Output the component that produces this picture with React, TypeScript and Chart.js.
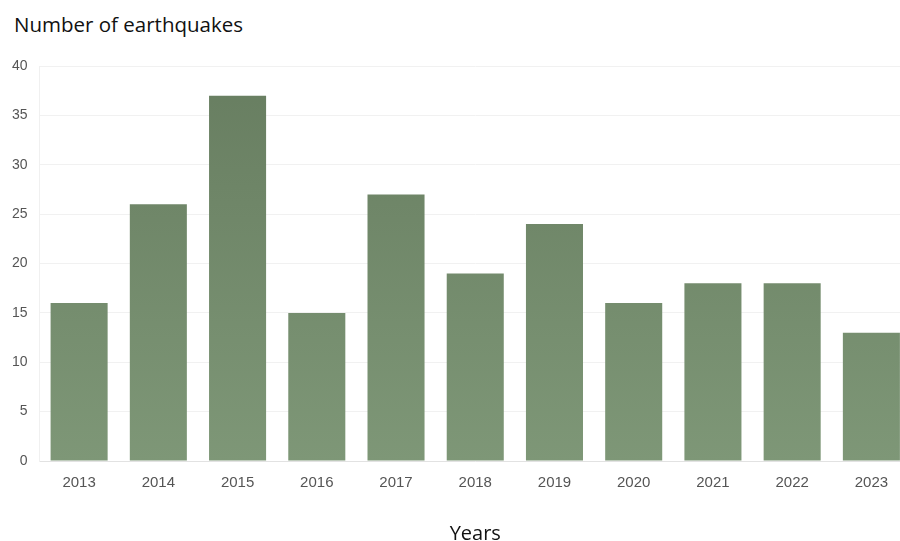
import React, { useEffect, useRef } from "react";
import { Chart, registerables } from "chart.js";

Chart.register(...registerables);

const years = ["2013", "2014", "2015", "2016", "2017", "2018", "2019", "2020", "2021", "2022", "2023"];
const quakeCounts = [16, 26, 37, 15, 27, 19, 24, 16, 18, 18, 13];
const yTicks = [0, 5, 10, 15, 20, 25, 30, 35, 40];

const CANVAS_W = 903;
const CANVAS_H = 560;

export default function App() {
  const canvasRef = useRef<HTMLCanvasElement | null>(null);

  useEffect(() => {
    const canvas = canvasRef.current;
    if (!canvas) return;

    const chart = new Chart(canvas, {
      type: "bar",
      data: {
        labels: years,
        datasets: [
          {
            label: "Earthquakes",
            data: quakeCounts,
            backgroundColor: (ctx: any) => {
              const area = ctx.chart.chartArea;
              if (!area) return "#748c6c";
              const g = ctx.chart.ctx.createLinearGradient(0, area.top, 0, area.bottom);
              g.addColorStop(0, "#677d60");
              g.addColorStop(1, "#7e9777");
              return g;
            },
            borderWidth: 0,
          },
        ],
      },
      options: {
        responsive: false,
        animation: false,
        devicePixelRatio: 1,
        layout: { padding: { top: 66, left: 0, right: 0, bottom: 0 } },
        plugins: {
          legend: { display: false },
          tooltip: { enabled: false },
        },
        scales: {
          x: {
            grid: { display: false, drawTicks: false },
            border: { display: true, color: "#e2e2e2" },
            ticks: {
              padding: 13,
              color: "#555",
              font: { family: "'Liberation Sans', Arial, sans-serif", size: 15 },
            },
            title: {
              display: true,
              text: "Years",
              color: "#111",
              font: { family: "'Open Sans', sans-serif", size: 20 },
              padding: { top: 0, bottom: 14 },
            },
            afterFit: (scale: any) => {
              scale.height = CANVAS_H - 461;
            },
          },
          y: {
            min: 0,
            max: 40,
            afterBuildTicks: (scale: any) => {
              scale.ticks = yTicks.map((v) => ({ value: v }));
            },
            grid: { color: "#f1f1f1", drawTicks: false },
            border: { display: true, color: "#f0f0f0" },
            ticks: {
              padding: 12,
              color: "#555",
              font: { family: "'Liberation Sans', Arial, sans-serif", size: 14 },
            },
            afterFit: (scale: any) => {
              scale.width = 31.5;
            },
          },
        },
      },
    });

    return () => chart.destroy();
  }, []);

  return (
    <div
      style={{
        position: "absolute",
        left: 0,
        top: 0,
        width: 900,
        height: 541,
        overflow: "hidden",
        background: "#fff",
      }}
    >
      <div
        style={{
          position: "absolute",
          left: 14,
          top: 10,
          fontFamily: "'Open Sans', sans-serif",
          fontSize: 20.5,
          lineHeight: "28px",
          color: "#111",
          whiteSpace: "nowrap",
        }}
      >
        Number of earthquakes
      </div>
      <canvas
        ref={canvasRef}
        width={CANVAS_W}
        height={CANVAS_H}
        style={{ position: "absolute", left: 8, top: 0, width: CANVAS_W, height: CANVAS_H }}
      />
    </div>
  );
}
